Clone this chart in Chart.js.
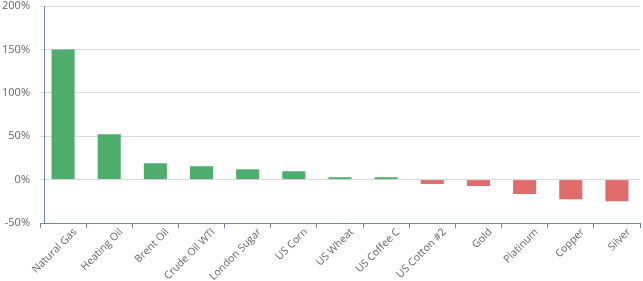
<!DOCTYPE html>
<html>
<head>
<meta charset="utf-8">
<script src="https://cdn.jsdelivr.net/npm/chart.js@4"></script>
<style>
  html, body { margin: 0; padding: 0; background: #fff; }
  #wrap { width: 643px; height: 281px; position: relative; }
</style>
</head>
<body>
<div id="wrap"><canvas id="perfChart"></canvas></div>
<script>
var commodities = ['Natural Gas', 'Heating Oil', 'Brent Oil', 'Crude Oil WTI', 'London Sugar', 'US Corn',
  'US Wheat', 'US Coffee C', 'US Cotton #2', 'Gold', 'Platinum', 'Copper', 'Silver'];
var changePct = [150, 52.3, 18.8, 15.4, 11.9, 9.6, 2.7, 2.7, -5, -7.4, -16.6, -22.7, -25];
var yTicks = [-50, 0, 50, 100, 150, 200];

var axisColor = '#6f88a3';
var gridColor = '#d9d9d9';

function barColors() {
  return changePct.map(function (v) { return v >= 0 ? '#4fad6d' : '#e06c6c'; });
}

// y axis line sits a few px right of where the categories start
var yAxisLine = {
  id: 'yAxisLine',
  afterDraw: function (chart) {
    var a = chart.chartArea;
    var c = chart.ctx;
    c.save();
    c.strokeStyle = axisColor;
    c.lineWidth = 1;
    c.beginPath();
    c.moveTo(a.left + 4.5, a.top);
    c.lineTo(a.left + 4.5, a.bottom);
    c.stroke();
    c.restore();
  }
};

var ctx = document.getElementById('perfChart');
new Chart(ctx, {
  type: 'bar',
  data: {
    labels: commodities,
    datasets: [{
      data: changePct,
      backgroundColor: barColors(),
      borderWidth: 0,
      categoryPercentage: 1,
      barPercentage: 0.5
    }]
  },
  options: {
    responsive: true,
    maintainAspectRatio: false,
    animation: false,
    layout: { padding: { top: 6, right: 3, left: 0, bottom: 0 } },
    plugins: { legend: { display: false }, tooltip: { enabled: false } },
    scales: {
      x: {
        offset: true,
        afterFit: function (axis) { axis.height = 58; },
        grid: { display: true, drawOnChartArea: false, drawTicks: true, tickLength: 5, color: axisColor },
        border: { display: true, color: axisColor, width: 1 },
        ticks: {
          color: '#666',
          font: { family: 'Open Sans', size: 10.5 },
          maxRotation: 45,
          minRotation: 45,
          labelOffset: 12,
          padding: -2
        }
      },
      y: {
        min: -50,
        max: 200,
        afterBuildTicks: function (axis) {
          axis.ticks = yTicks.map(function (v) { return { value: v }; });
        },
        afterFit: function (axis) {
          axis.width = 40;
          axis.paddingTop = 0;
          axis.paddingBottom = 0;
        },
        grid: { color: gridColor, drawTicks: false },
        border: { display: false },
        ticks: {
          color: '#666',
          padding: 10,
          font: { family: 'Open Sans', size: 11 },
          callback: function (v) { return v + '%'; }
        }
      }
    }
  },
  plugins: [yAxisLine]
});
</script>
</body>
</html>
